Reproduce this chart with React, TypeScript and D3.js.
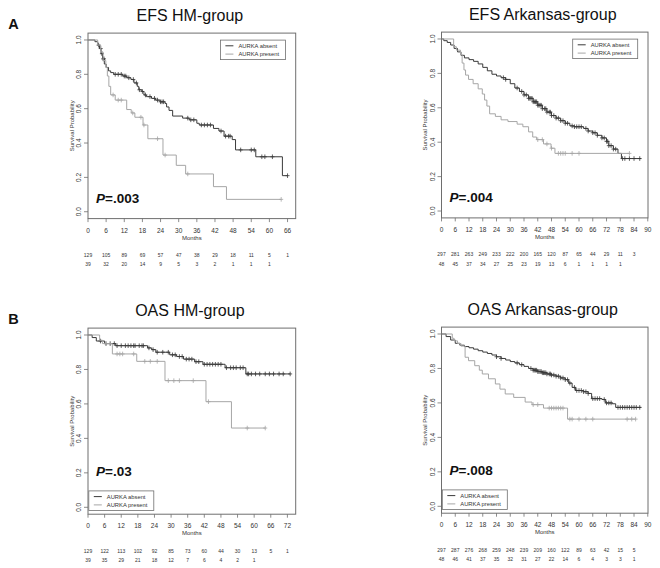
import React from 'react'
import * as d3 from 'd3'

type Pt = [number, number]

// EFS HM-group
const efsHmAbsent: Pt[] = [[0, 1], [2.3, 0.99], [3.2, 0.97], [3.8, 0.95], [4.3, 0.92], [4.8, 0.89], [5.4, 0.86], [6.0, 0.84], [6.8, 0.82], [7.5, 0.81], [8.5, 0.8], [11.5, 0.79], [12.8, 0.78], [14.2, 0.77], [15.2, 0.75], [16.3, 0.73], [16.8, 0.71], [17.8, 0.7], [18.5, 0.68], [19.3, 0.67], [21, 0.66], [22.3, 0.65], [23.8, 0.64], [25.5, 0.63], [26, 0.61], [26.8, 0.59], [28, 0.557], [31.3, 0.545], [33.5, 0.535], [36, 0.515], [36.8, 0.505], [41.5, 0.485], [43.3, 0.47], [45, 0.44], [47.7, 0.42], [48.8, 0.36], [55.5, 0.32], [64.3, 0.21], [66, 0.21]]
const efsHmAbsentCensor = [3.5, 4.2, 4.6, 5.0, 5.3, 9, 10, 11, 12, 12.5, 13.5, 15, 16, 17, 18, 19, 20.5, 22, 23, 24, 24.5, 25, 33, 34, 35, 37.5, 38.5, 39.5, 40.5, 44, 45.5, 46.5, 47, 50.5, 54, 55, 57.5, 58.5, 61, 66]
const efsHmPresent: Pt[] = [[0, 1], [3.2, 0.97], [4.2, 0.93], [5, 0.88], [5.9, 0.84], [6.4, 0.79], [6.9, 0.73], [7.5, 0.68], [9, 0.65], [12.8, 0.595], [14.3, 0.575], [15.5, 0.55], [18.2, 0.505], [19.8, 0.425], [24.8, 0.33], [29.2, 0.27], [32.3, 0.22], [41.5, 0.146], [45.8, 0.072], [63.9, 0.072]]
const efsHmPresentCensor = [8.3, 10, 11, 14.8, 17.5, 18.5, 23, 25.5, 33, 63.9]
const efsHmTicks = [0, 6, 12, 18, 24, 30, 36, 42, 48, 54, 60, 66]
const efsHmRiskAbsent = [129, 105, 89, 69, 57, 47, 38, 29, 18, 11, 5, 1]
const efsHmRiskPresent = [39, 32, 20, 14, 9, 5, 3, 2, 1, 1, 1]

// EFS Arkansas-group
const efsArkAbsent: Pt[] = [[0, 1], [1, 0.99], [2.5, 0.98], [4, 0.965], [5.5, 0.945], [7, 0.925], [8.5, 0.905], [10, 0.89], [12, 0.88], [14, 0.87], [16, 0.855], [18, 0.835], [20, 0.815], [22, 0.795], [24, 0.785], [26, 0.775], [28, 0.765], [30, 0.74], [32, 0.715], [34, 0.695], [36, 0.675], [38, 0.655], [40, 0.635], [42, 0.615], [44, 0.595], [46, 0.575], [48, 0.555], [50, 0.54], [52, 0.525], [54, 0.51], [56, 0.495], [58, 0.49], [62, 0.48], [64, 0.465], [66, 0.455], [68, 0.44], [70, 0.425], [72, 0.405], [73, 0.38], [75, 0.36], [77, 0.335], [78.5, 0.305], [87, 0.305]]
const efsArkAbsentCensor = [27, 28, 33, 35, 36, 37, 38, 38.5, 39, 39.5, 40, 40.5, 41, 41.5, 42, 42.5, 43, 43.5, 44, 45, 45.5, 46, 47, 47.5, 48, 49, 50, 51, 52, 53, 54, 55, 57, 58, 59, 60, 61, 63, 64, 66, 67, 68, 70, 71, 72, 72.5, 73, 74, 75, 76, 79, 80, 82, 84, 86.5]
const efsArkPresent: Pt[] = [[0, 1], [5.3, 0.955], [6.5, 0.935], [8.3, 0.91], [9, 0.86], [9.8, 0.82], [10.5, 0.79], [11.8, 0.765], [13.8, 0.74], [16, 0.71], [17.8, 0.68], [18.8, 0.645], [19.8, 0.61], [21, 0.565], [23.5, 0.55], [26, 0.53], [29, 0.52], [33, 0.505], [35.5, 0.49], [38, 0.46], [39.8, 0.43], [41.5, 0.415], [44.5, 0.39], [47.8, 0.365], [49.5, 0.335], [82, 0.335]]
const efsArkPresentCensor = [42, 44, 46, 48, 51, 52, 53, 54, 57, 60, 82]
const efsArkTicks = [0, 6, 12, 18, 24, 30, 36, 42, 48, 54, 60, 66, 72, 78, 84, 90]
const efsArkRiskAbsent = [297, 281, 263, 249, 233, 222, 200, 165, 120, 87, 65, 44, 29, 11, 3]
const efsArkRiskPresent = [48, 45, 37, 34, 27, 25, 23, 19, 13, 6, 1, 1, 1, 1]

// OAS HM-group
const oasHmAbsent: Pt[] = [[0, 1], [1.5, 0.985], [3, 0.965], [6, 0.95], [10, 0.938], [21.5, 0.925], [23, 0.915], [24.5, 0.9], [29.5, 0.885], [32, 0.875], [34.5, 0.86], [38.5, 0.845], [41.5, 0.83], [49.5, 0.81], [57, 0.774], [73, 0.774]]
const oasHmAbsentCensor = [4.5, 6.5, 8, 9.5, 10.5, 12, 13.5, 14.5, 15.5, 16.5, 17, 18.5, 19.5, 20, 22, 23.5, 25, 27, 29, 30.5, 31.5, 33, 34, 35.5, 36.5, 37.5, 39, 40, 42, 43, 44, 45, 46, 47, 48, 50, 51.5, 52.5, 53.5, 55, 56, 57.5, 58, 59, 60.5, 62, 64, 65.5, 67, 69, 70.5, 73]
const oasHmPresent: Pt[] = [[0, 1], [4.2, 0.97], [5.2, 0.95], [8.8, 0.89], [17.6, 0.847], [27.8, 0.735], [42.6, 0.613], [51.8, 0.46], [64, 0.46]]
const oasHmPresentCensor = [10.5, 11.5, 12.5, 16.5, 20.5, 22.5, 25, 29, 31, 33, 38, 43.5, 57.5, 64]
const oasHmTicks = [0, 6, 12, 18, 24, 30, 36, 42, 48, 54, 60, 66, 72]
const oasHmRiskAbsent = [129, 122, 113, 102, 92, 85, 73, 60, 44, 30, 13, 5, 1]
const oasHmRiskPresent = [39, 35, 29, 21, 18, 12, 7, 6, 4, 2, 1]

// OAS Arkansas-group
const oasArkAbsent: Pt[] = [[0, 1], [2, 0.985], [4, 0.965], [6, 0.946], [8, 0.935], [10, 0.927], [12, 0.92], [14, 0.912], [16, 0.903], [18, 0.895], [20, 0.887], [22, 0.878], [24, 0.868], [26, 0.858], [28, 0.849], [30, 0.84], [32, 0.832], [34, 0.822], [36, 0.812], [38, 0.8], [40, 0.79], [42, 0.782], [44, 0.775], [46, 0.768], [48, 0.762], [50, 0.755], [52, 0.745], [54, 0.735], [55.5, 0.715], [57, 0.69], [58.5, 0.672], [62, 0.665], [64, 0.655], [65.5, 0.625], [70, 0.62], [71.5, 0.6], [74.5, 0.595], [76, 0.574], [87, 0.574]]
const oasArkAbsentCensor = [24, 26, 33, 35, 39, 40, 40.5, 41, 41.5, 42, 42.5, 43, 43.5, 44, 44.5, 45, 45.5, 46, 47, 47.5, 48, 49, 50, 51, 52, 53, 54, 55, 56, 58, 59, 60, 61, 62, 63, 64, 66, 67, 68, 69, 71, 72, 73, 74, 77, 78, 79, 80, 81, 82, 83, 84, 85, 86.5]
const oasArkPresent: Pt[] = [[0, 1], [4.7, 0.975], [5.5, 0.96], [7, 0.945], [8.5, 0.93], [10.3, 0.865], [11.8, 0.845], [14.5, 0.816], [16.5, 0.79], [17.8, 0.768], [20.5, 0.74], [23.5, 0.71], [25.5, 0.68], [27.8, 0.652], [31.5, 0.632], [36.5, 0.605], [39.5, 0.59], [44.5, 0.57], [55, 0.506], [84.7, 0.506]]
const oasArkPresentCensor = [40, 42, 47, 48, 49, 50, 51, 52, 53, 56, 57, 60, 63, 66, 81, 83, 84.7]
const oasArkTicks = [0, 6, 12, 18, 24, 30, 36, 42, 48, 54, 60, 66, 72, 78, 84, 90]
const oasArkRiskAbsent = [297, 287, 276, 268, 259, 248, 239, 209, 160, 122, 89, 63, 42, 15, 5]
const oasArkRiskPresent = [48, 46, 41, 37, 35, 32, 31, 27, 22, 14, 6, 4, 3, 3, 1]

const yTicks = [0, 0.2, 0.4, 0.6, 0.8, 1.0]
const legendLabels = ['AURKA absent', 'AURKA present']

const W = 660
const H = 568
const font = '"Liberation Sans", Arial, sans-serif'
const cAbsent = '#3a3a3a'
const cPresent = '#a6a6a6'
const cAxis = '#6e6e6e'
const cText = '#333'

const panels = [
  { title: 'EFS HM-group', letter: 'A', pval: '.003', box: { l: 88, r: 295.7, t: 33.1, b: 218.6 }, xMax: 68.7, pY: 0.05, legend: 'top',
    absent: efsHmAbsent, absentCensor: efsHmAbsentCensor, present: efsHmPresent, presentCensor: efsHmPresentCensor,
    ticks: efsHmTicks, riskAbsent: efsHmRiskAbsent, riskPresent: efsHmRiskPresent },
  { title: 'EFS Arkansas-group', letter: '', pval: '.004', box: { l: 441.5, r: 648, t: 32.1, b: 217.9 }, xMax: 90.1, pY: 0.05, legend: 'top',
    absent: efsArkAbsent, absentCensor: efsArkAbsentCensor, present: efsArkPresent, presentCensor: efsArkPresentCensor,
    ticks: efsArkTicks, riskAbsent: efsArkRiskAbsent, riskPresent: efsArkRiskPresent },
  { title: 'OAS HM-group', letter: 'B', pval: '.03', box: { l: 88, r: 295.7, t: 328.1, b: 514.2 }, xMax: 75, pY: 0.18, legend: 'bottom',
    absent: oasHmAbsent, absentCensor: oasHmAbsentCensor, present: oasHmPresent, presentCensor: oasHmPresentCensor,
    ticks: oasHmTicks, riskAbsent: oasHmRiskAbsent, riskPresent: oasHmRiskPresent },
  { title: 'OAS Arkansas-group', letter: '', pval: '.008', box: { l: 441.5, r: 648, t: 327.1, b: 513.2 }, xMax: 90.1, pY: 0.18, legend: 'bottom',
    absent: oasArkAbsent, absentCensor: oasArkAbsentCensor, present: oasArkPresent, presentCensor: oasArkPresentCensor,
    ticks: oasArkTicks, riskAbsent: oasArkRiskAbsent, riskPresent: oasArkRiskPresent },
]

type Panel = typeof panels[number]

// value of a step curve at time t
const stepAt = (pts: Pt[], t: number) => {
  const i = d3.bisector((d: Pt) => d[0]).right(pts, t) - 1
  return pts[Math.max(0, i)][1]
}

function KMPanel ({ p }: { p: Panel }) {
  const { box } = p
  const x = d3.scaleLinear().domain([0, p.xMax]).range([box.l, box.r])
  const y = d3.scaleLinear().domain([-0.04, 1.04]).range([box.b, box.t])
  const line = d3.line<Pt>().x(d => x(d[0])).y(d => y(d[1])).curve(d3.curveStepAfter)

  const censors = (pts: Pt[], times: number[], color: string) => {
    const d = times.map(t => {
      const cx = x(t)
      const cy = y(stepAt(pts, t))
      return `M${cx - 2},${cy}H${cx + 2}M${cx},${cy - 2.3}V${cy + 2.3}`
    }).join('')
    return <path d={d} stroke={color} strokeWidth={0.8} fill="none" />
  }

  const lw = 65
  const lh = 19.5
  const lx = p.legend === 'top' ? box.r - 10.3 - lw : box.l + 0.8
  const ly = p.legend === 'top' ? box.t + 7 : box.b - 3.8 - lh
  const midX = (box.l + box.r) / 2

  return (
    <g fontFamily={font}>
      <text x={midX - 2} y={box.t - (p.legend === 'top' ? 12.4 : 12.4)} textAnchor="middle" fontSize={16} fill="#111">{p.title}</text>
      {p.letter && <text x={8.3} y={box.t - 3.8} fontSize={14.5} fontWeight="bold" fill="#111">{p.letter}</text>}

      <rect x={box.l} y={box.t} width={box.r - box.l} height={box.b - box.t} fill="none" stroke={cAxis} strokeWidth={1} />

      {yTicks.map(v => (
        <g key={v}>
          <line x1={box.l - 4} x2={box.l} y1={y(v)} y2={y(v)} stroke={cAxis} strokeWidth={0.8} />
          <text transform={`translate(${box.l - 7},${y(v)}) rotate(-90)`} textAnchor="middle" fontSize={6.5} fill={cText}>{v.toFixed(1)}</text>
        </g>
      ))}
      <text transform={`translate(${box.l - 14.5},${(box.t + box.b) / 2}) rotate(-90)`} textAnchor="middle" fontSize={6} fill={cText}>Survival Probability</text>

      {p.ticks.map(v => (
        <g key={v}>
          <line x1={x(v)} x2={x(v)} y1={box.b} y2={box.b + 3.5} stroke={cAxis} strokeWidth={0.8} />
          <text x={x(v)} y={box.b + 14} textAnchor="middle" fontSize={6.5} fill={cText}>{v}</text>
        </g>
      ))}
      <text x={midX} y={box.b + 21} textAnchor="middle" fontSize={6} fill={cText}>Months</text>

      {p.riskAbsent.map((n, i) => (
        <text key={'a' + i} x={x(p.ticks[i])} y={box.b + 38.3} textAnchor="middle" fontSize={5} fill={cText}>{n}</text>
      ))}
      {p.riskPresent.map((n, i) => (
        <text key={'p' + i} x={x(p.ticks[i])} y={box.b + 47.6} textAnchor="middle" fontSize={5} fill={cText}>{n}</text>
      ))}

      <path d={line(p.absent) || ''} fill="none" stroke={cAbsent} strokeWidth={1} />
      {censors(p.absent, p.absentCensor, cAbsent)}
      <path d={line(p.present) || ''} fill="none" stroke={cPresent} strokeWidth={1} />
      {censors(p.present, p.presentCensor, cPresent)}

      <text x={box.l + 8} y={y(p.pY)} fontSize={13.5} fontWeight="bold" fill="#111">
        <tspan fontStyle="italic">P</tspan>={p.pval}
      </text>

      <rect x={lx} y={ly} width={lw} height={lh} fill="#fff" stroke={cAxis} strokeWidth={0.8} />
      {legendLabels.map((lab, i) => (
        <g key={lab}>
          <line x1={lx + 5} x2={lx + 13} y1={ly + 5.7 + i * 8.3} y2={ly + 5.7 + i * 8.3} stroke={i === 0 ? cAbsent : cPresent} strokeWidth={1} />
          <text x={lx + 18} y={ly + 7.7 + i * 8.3} fontSize={5.8} fill={cText}>{lab}</text>
        </g>
      ))}
    </g>
  )
}

export default function App () {
  return (
    <svg width={W} height={H} style={{ position: 'absolute', left: 0, top: 0, background: '#fff' }}>
      <rect width={W} height={H} fill="#fff" />
      {panels.map(p => <KMPanel key={p.title} p={p} />)}
    </svg>
  )
}
